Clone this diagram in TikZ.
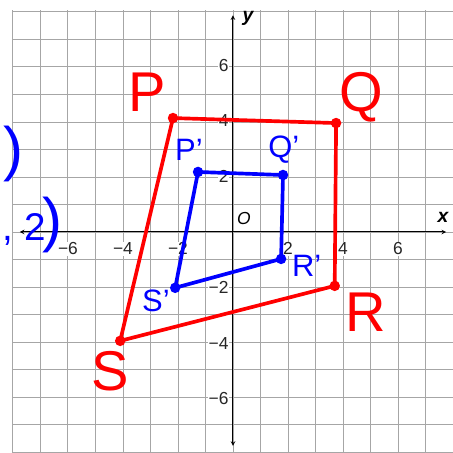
\documentclass[tikz,border=0pt]{standalone}
\usepackage{fontspec}
\setmainfont{Liberation Sans}
\begin{document}
\begin{tikzpicture}[x=1cm, y=1.01cm, >=stealth,
    tick/.style={fill=white, inner sep=1pt, text=black!85, font=\fontsize{18}{18}\selectfont},
    hand/.style={inner sep=0pt, font=\fontsize{58}{58}\selectfont},
    handsmall/.style={inner sep=0pt, font=\fontsize{32}{32}\selectfont},
    vdot/.style={radius=0.19}]

    \useasboundingbox (-8.47,-7.95) rectangle (8.0,8.35);

    % --- The Grid ---
    \draw[gray!70, line width=0.9pt] (-8,-8) grid (8,8);

    % --- The Axes ---
    \draw[<->, line width=1.1pt] (-7.75,0) -- (7.75,0);
    \draw[<->, line width=1.1pt] (0,-7.7) -- (0,7.8);
    \node[font=\fontsize{20}{20}\selectfont\bfseries\itshape] (ylab) at (0.55,7.7) {y};
    \node[font=\fontsize{20}{20}\selectfont\bfseries\itshape] (xlab) at (7.64,0.54) {x};
    \node[font=\fontsize{18}{18}\selectfont\itshape] (orig) at (0.4,0.5) {O};

    % tick labels
    \foreach \t in {-6,-4,-2,2,4,6} {
        \node[tick] (tx\t) at (\t,-0.61) {\ifnum\t<0 −\the\numexpr-\t\relax\else\t\fi};
        \node[tick, anchor=east] (ty\t) at (-0.12,\t) {\ifnum\t<0 −\the\numexpr-\t\relax\else\t\fi};
    }

    % --- Original figure PQRS ---
    \coordinate (P) at (-2.18,4.1);
    \coordinate (Q) at (3.75,3.92);
    \coordinate (R) at (3.7,-1.94);
    \coordinate (S) at (-4.1,-3.92);
    \draw[red, line width=3.8pt, line join=round] (P) -- (Q) -- (R) -- (S) -- cycle;
    \foreach \v in {P,Q,R,S} \fill[red] (\v) circle[vdot];
    \node[hand, red] (Plab) at (-3.13,5.04) {P};
    \node[hand, red] (Qlab) at (4.65,4.86) {Q};
    \node[hand, red] (Rlab) at (4.84,-2.88) {R};
    \node[hand, red] (Slab) at (-4.47,-5.0) {S};

    % --- Image P'Q'R'S' ---
    \coordinate (P1) at (-1.27,2.16);
    \coordinate (Q1) at (1.82,2.05);
    \coordinate (R1) at (1.75,-0.97);
    \coordinate (S1) at (-2.1,-2.01);
    \draw[blue, line width=3.8pt, line join=round] (P1) -- (Q1) -- (R1) -- (S1) -- cycle;
    \foreach \v in {P1,Q1,R1,S1} \fill[blue] (\v) circle[vdot];
    \node[handsmall, blue] (P1lab) at (-1.6,2.95) {P'};
    \node[handsmall, blue] (Q1lab) at (1.85,2.95) {Q'};
    \node[handsmall, blue] (R1lab) at (2.68,-1.22) {R'};
    \node[handsmall, blue] (S1lab) at (-2.8,-2.48) {S'};

    % --- Notes at the left edge ---
    \node[inner sep=0pt, blue, font=\fontsize{62}{62}\selectfont] (paren) at (-7.98,2.8) {)};
    \node[inner sep=0pt, blue, anchor=base west] (pair) at (-8.38,-0.29)
        {{\fontsize{40}{40}\selectfont , 2}\hspace{-0.32em}{\fontsize{62}{62}\selectfont )}};

\end{tikzpicture}
\end{document}
